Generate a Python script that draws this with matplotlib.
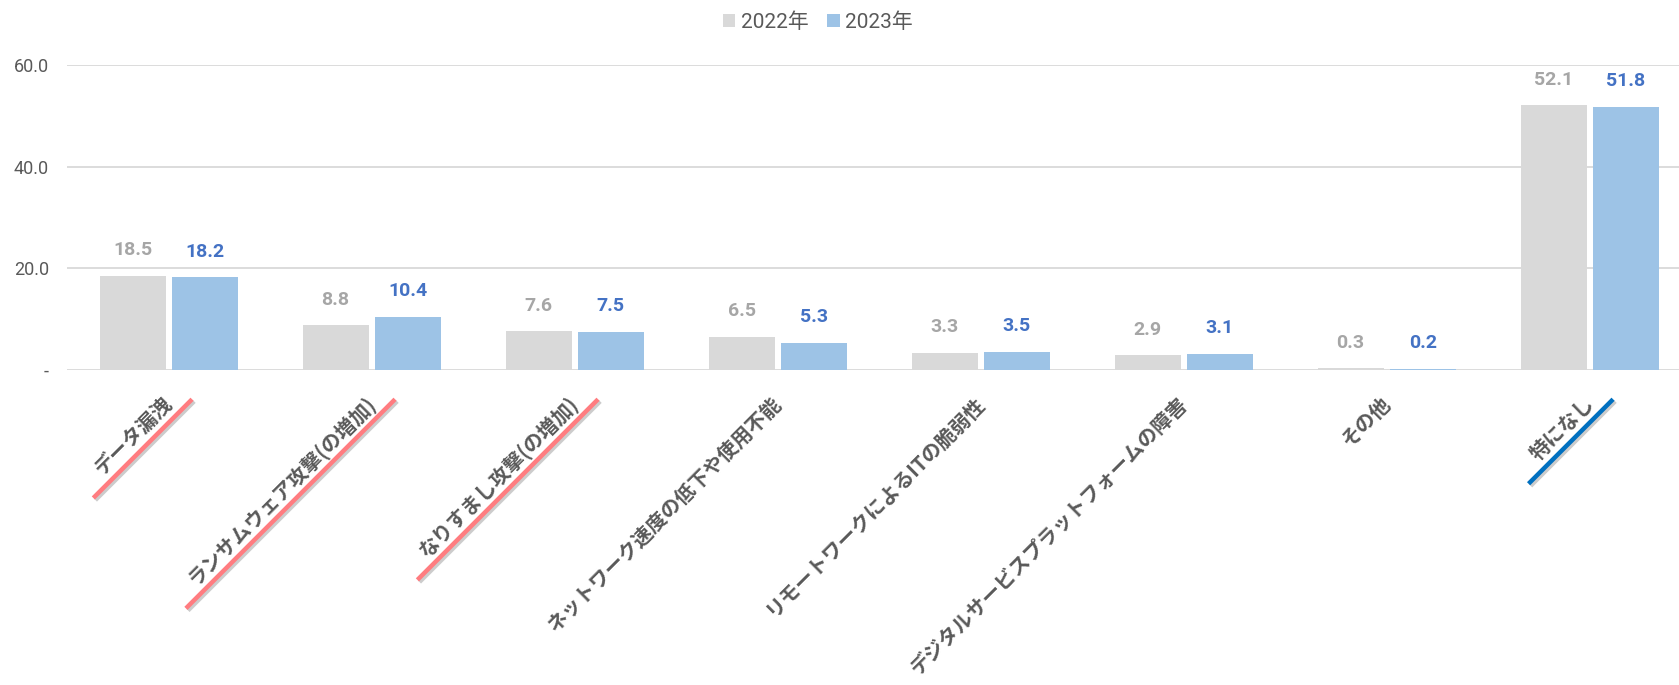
import numpy as np
import matplotlib
matplotlib.use("Agg")
import matplotlib.pyplot as plt
import matplotlib.patheffects as pe
from matplotlib.lines import Line2D
from matplotlib.transforms import ScaledTranslation

# data
categories = ["データ漏洩", "ランサムウェア攻撃(の増加)", "なりすまし攻撃(の増加)",
              "ネットワーク速度の低下や使用不能", "リモートワークによるITの脆弱性",
              "デジタルサービスプラットフォームの障害", "その他", "特になし"]
values_2022 = [18.5, 8.8, 7.6, 6.5, 3.3, 2.9, 0.3, 52.1]
values_2023 = [18.2, 10.4, 7.5, 5.3, 3.5, 3.1, 0.2, 51.8]
series_names = ["2022年", "2023年"]
y_ticks = [0, 20, 40, 60]
y_tick_labels = ["-", "20.0", "40.0", "60.0"]
# labels that get a coloured marker line under them
highlights = {0: "#FF7C80", 1: "#FF7C80", 2: "#FF7C80", 7: "#0070C0"}

plt.rcParams['font.family'] = ['Noto Sans CJK JP', 'DejaVu Sans']
num_font = ['Roboto', 'Noto Sans CJK JP']

gray, blue = "#D9D9D9", "#9DC3E6"
gray_txt, blue_txt = "#A6A6A6", "#4472C4"
axis_txt = "#595959"

fig = plt.figure(figsize=(16.79, 6.85), dpi=100)
ax = fig.add_axes([0.04, 0.46, 0.96, 0.445])

x = np.arange(len(categories))
off, bw = 0.178, 0.325
b1 = ax.bar(x - off, values_2022, bw, color=gray, label=series_names[0], zorder=2)
b2 = ax.bar(x + off, values_2023, bw, color=blue, label=series_names[1], zorder=2)

for bars, vals, col in [(b1, values_2022, gray_txt), (b2, values_2023, blue_txt)]:
    for rect, v in zip(bars, vals):
        ax.annotate(f"{v:.1f}", (rect.get_x() + rect.get_width() / 2, v), xytext=(0, 12),
                    textcoords="offset points", ha="center", va="bottom", fontsize=14,
                    fontweight="bold", color=col, family=num_font, annotation_clip=False)

ax.set_xlim(-0.5, 7.44)
ax.set_ylim(0, 60)
ax.set_yticks(y_ticks, y_tick_labels, family=num_font, fontsize=13, color=axis_txt)
ax.set_xticks(x)
ax.tick_params(axis="x", length=0, labelbottom=False)
ax.tick_params(axis="y", length=0, pad=13)
ax.grid(axis="y", color="#D9D9D9", linewidth=1.3, zorder=0)
ax.set_axisbelow(True)
for s in ax.spines.values():
    s.set_visible(False)

# rotated category labels, right end of baseline a bit below the axis
lbl_trans = ax.get_xaxis_transform() + ScaledTranslation(0.05, -0.35, fig.dpi_scale_trans)
cat_texts = []
for i, name in enumerate(categories):
    t = ax.text(i, 0, name, transform=lbl_trans, rotation=45, rotation_mode="anchor",
                ha="right", va="baseline", fontsize=14.5, fontweight="bold", color=axis_txt)
    cat_texts.append(t)

leg = fig.legend(loc="center", bbox_to_anchor=(0.487, 0.968), ncol=2, frameon=False,
                 prop={"family": num_font, "size": 15}, handlelength=0.6, handleheight=0.6,
                 handletextpad=0.25, columnspacing=0.9)
for t in leg.get_texts():
    t.set_color(axis_txt)

# marker lines under the highlighted labels
fig.canvas.draw()
renderer = fig.canvas.get_renderer()
u = np.array([1.0, 1.0]) / np.sqrt(2)   # along the text
n = np.array([1.0, -1.0]) / np.sqrt(2)  # below the text
inv = fig.transFigure.inverted()
for idx, col in highlights.items():
    t = cat_texts[idx]
    w, h, d = renderer.get_text_width_height_descent(t.get_text(), t.get_fontproperties(), ismath=False)
    anchor = t.get_transform().transform(t.get_position())
    p0 = anchor - (w + 22) * u + 9 * n
    p1 = anchor + 17 * u + 9 * n
    pts = inv.transform(np.array([p0, p1]))
    line = Line2D(pts[:, 0], pts[:, 1], transform=fig.transFigure, color=col, linewidth=3.2,
                  solid_capstyle="butt",
                  path_effects=[pe.SimpleLineShadow(offset=(1.5, -1.5), shadow_color="gray", alpha=0.4),
                                pe.Normal()])
    fig.add_artist(line)

fig.savefig("out.png", dpi=100)
